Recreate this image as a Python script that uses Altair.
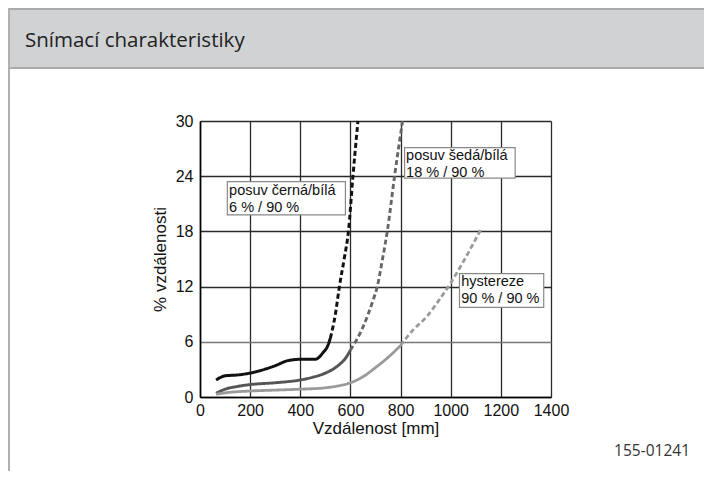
import altair as alt
import pandas as pd

# ---- data ----
black_solid_x = [64, 100, 150, 200, 250, 300, 350, 400, 460, 490, 510, 520]
black_solid_y = [1.85, 2.3, 2.4, 2.6, 2.95, 3.4, 3.95, 4.1, 4.1, 4.8, 5.6, 6.4]
black_dash_x = [520, 540, 556, 575, 592, 610, 630]
black_dash_y = [6.4, 9.0, 12.0, 15.0, 18.0, 24.0, 30.0]

dgray_solid_x = [64, 100, 150, 200, 300, 400, 450, 500, 550, 580, 600]
dgray_solid_y = [0.4, 0.85, 1.15, 1.35, 1.55, 1.85, 2.15, 2.6, 3.4, 4.2, 5.1]
dgray_dash_x = [600, 650, 690, 707, 728, 747, 776, 808]
dgray_dash_y = [5.1, 7.6, 10.5, 12.0, 15.0, 18.0, 24.0, 30.0]

lgray_solid_x = [64, 100, 200, 300, 400, 500, 550, 600, 650, 700, 750, 800]
lgray_solid_y = [0.3, 0.45, 0.65, 0.75, 0.85, 1.0, 1.2, 1.55, 2.2, 3.2, 4.3, 5.6]
lgray_dash_x = [800, 850, 900, 950, 1000, 1050, 1120]
lgray_dash_y = [5.6, 7.3, 8.6, 10.4, 12.4, 14.7, 18.2]

x_ticks = [0, 200, 400, 600, 800, 1000, 1200, 1400]
y_ticks = [0, 6, 12, 18, 24, 30]

ann_text = ["posuv černá/bílá\n6 % / 90 %", "posuv šedá/bílá\n18 % / 90 %", "hystereze\n90 % / 90 %"]
ann_x1 = [109, 816, 1035]
ann_x2 = [580, 1257, 1371]
ann_y1 = [23.4, 27.1, 13.4]
ann_y2 = [19.8, 23.8, 9.75]
ann_tx = [116, 822, 1042]
ann_ty = [23.2, 27.0, 13.25]

title_text = "Snímací charakteristiky"
code_text = "155-01241"
x_title = "Vzdálenost [mm]"
y_title = "% vzdálenosti"

# ---- build tables ----
segs = ["black-solid", "black-dash", "dgray-solid", "dgray-dash", "lgray-solid", "lgray-dash"]
seg_data = [
    (black_solid_x, black_solid_y), (black_dash_x, black_dash_y),
    (dgray_solid_x, dgray_solid_y), (dgray_dash_x, dgray_dash_y),
    (lgray_solid_x, lgray_solid_y), (lgray_dash_x, lgray_dash_y),
]
rows = []
for name, (xs, ys) in zip(segs, seg_data):
    for xv, yv in zip(xs, ys):
        rows.append({"x": xv, "y": yv, "seg": name})
lines_df = pd.DataFrame(rows)

seg_colors = ["#111111", "#111111", "#555555", "#666666", "#9a9a9a", "#9a9a9a"]
seg_dash = [[1, 0], [5, 3], [1, 0], [5, 3], [1, 0], [5, 3]]
seg_width = [3, 2.8, 2.6, 2.4, 2.6, 2.4]

ann_df = pd.DataFrame({"x1": ann_x1, "x2": ann_x2, "y1": ann_y1, "y2": ann_y2,
                       "tx": ann_tx, "ty": ann_ty, "text": ann_text})

AX_FONT = "Liberation Sans, Arial, sans-serif"
xscale = alt.Scale(domain=[0, 1400], nice=False, zero=True)
yscale = alt.Scale(domain=[0, 30], nice=False, zero=True)

grid_col = "#2a2a2a"

x_axis = alt.Axis(values=x_ticks, format="d", title=x_title, grid=True, gridColor=grid_col, gridWidth=1.3,
                  domainColor="#000", domainWidth=1.6, ticks=False, labelPadding=5,
                  labelFont=AX_FONT, labelFontSize=16, labelColor="#111", labelFlush=False,
                  titleFont=AX_FONT, titleFontSize=17, titleFontWeight="normal", titleColor="#111",
                  titlePadding=2)
y_axis = alt.Axis(values=y_ticks, format="d", title=y_title, grid=True,
                  gridColor=alt.condition("datum.value == 6", alt.value("#777777"), alt.value(grid_col)),
                  gridWidth=1.3,
                  domainColor="#000", domainWidth=1.6, ticks=False, labelPadding=7,
                  labelFont=AX_FONT, labelFontSize=16, labelColor="#111", labelFlush=False,
                  titleFont=AX_FONT, titleFontSize=17, titleFontWeight="normal", titleColor="#111",
                  titlePadding=6)

lines = alt.Chart(lines_df).mark_line(interpolate="monotone", strokeCap="butt").encode(
    x=alt.X("x:Q", scale=xscale, axis=x_axis),
    y=alt.Y("y:Q", scale=yscale, axis=y_axis),
    color=alt.Color("seg:N", scale=alt.Scale(domain=segs, range=seg_colors), legend=None),
    strokeDash=alt.StrokeDash("seg:N", scale=alt.Scale(domain=segs, range=seg_dash), legend=None),
    strokeWidth=alt.StrokeWidth("seg:N", scale=alt.Scale(domain=segs, range=seg_width), legend=None),
)

boxes = alt.Chart(ann_df).mark_rect(fill="white", stroke="#888888", strokeWidth=1.2).encode(
    x=alt.X("x1:Q", scale=xscale), x2="x2:Q",
    y=alt.Y("y1:Q", scale=yscale), y2="y2:Q",
)
box_text = alt.Chart(ann_df).mark_text(
    align="left", baseline="top", lineBreak="\n", lineHeight=17,
    font=AX_FONT, fontSize=14.5, color="#111",
).encode(
    x=alt.X("tx:Q", scale=xscale), y=alt.Y("ty:Q", scale=yscale), text="text:N",
)

one = pd.DataFrame({"k": [0]})
header = alt.Chart(one).mark_rect(fill="#d1d2d4").encode(
    x=alt.value(-194), x2=alt.value(512), y=alt.value(-113), y2=alt.value(-53))
header_top = alt.Chart(one).mark_rule(color="#aaaaaa", strokeWidth=2).encode(
    x=alt.value(-194), x2=alt.value(512), y=alt.value(-112))
header_bot = alt.Chart(one).mark_rule(color="#aaaaaa", strokeWidth=2).encode(
    x=alt.value(-194), x2=alt.value(512), y=alt.value(-53))
left_line = alt.Chart(one).mark_rule(color="#b0b0b0", strokeWidth=2).encode(
    x=alt.value(-191), y=alt.value(-113), y2=alt.value(360))
title = alt.Chart(one).mark_text(
    align="left", baseline="middle", font="Open Sans",
    fontSize=20.5, color="#222").encode(
    x=alt.value(-175), y=alt.value(-80), text=alt.value(title_text))
code = alt.Chart(one).mark_text(
    align="right", baseline="middle", font="Open Sans", fontSize=15.5, color="#333").encode(
    x=alt.value(490), y=alt.value(330), text=alt.value(code_text))

chart = alt.layer(header, header_top, header_bot, left_line, title, code,
                  lines, boxes, box_text).properties(
    width=351, height=276,
    padding={"left": 192, "top": 113, "right": 153, "bottom": 74},
    autosize=alt.AutoSizeParams(type="none"),
    background="white",
).configure_view(strokeWidth=0)

chart.save("out.html", embed_options={"renderer": "svg", "actions": False})
